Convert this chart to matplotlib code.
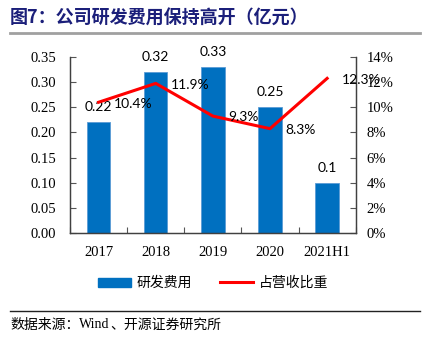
import matplotlib
matplotlib.use("Agg")
import matplotlib.pyplot as plt
from matplotlib.lines import Line2D
from matplotlib.patches import Patch

categories = ["2017", "2018", "2019", "2020", "2021H1"]
rd_expense = [0.22, 0.32, 0.33, 0.25, 0.10]
rd_labels = ["0.22", "0.32", "0.33", "0.25", "0.1"]
ratio_pct = [10.4, 11.9, 9.3, 8.3, 12.3]
left_ticks = [0.00, 0.05, 0.10, 0.15, 0.20, 0.25, 0.30, 0.35]
right_ticks = [0, 2, 4, 6, 8, 10, 12, 14]

W, H = 423, 341
fig = plt.figure(figsize=(W / 100, H / 100), dpi=100)
cjk = ["Noto Sans CJK SC", "DejaVu Sans"]
serif = ["Liberation Serif", "DejaVu Serif"]
num = ["Lato", "DejaVu Sans"]

ax = fig.add_axes([70 / W, (H - 233) / H, 285.7 / W, 176 / H])
x = list(range(len(categories)))
ax.bar(x, rd_expense, width=0.41, color="#0070C0", edgecolor="#5B9BD5", linewidth=0.6, zorder=2)
ax.set_xlim(-0.5, 4.5)
ax.set_ylim(0, 0.35)
ax.set_yticks(left_ticks)
ax.set_yticklabels([f"{v:.2f}" for v in left_ticks], family=serif, fontsize=10.5)
ax.set_xticks([i + 0.5 for i in range(-1, 5)], minor=False)
ax.set_xticklabels([""] * 6)
ax.set_xticks(x, minor=True)
ax.set_xticklabels(categories, minor=True, family=serif, fontsize=10.5)
ax.tick_params(axis="x", which="major", direction="in", length=4, width=0.8, color="#555555")
ax.tick_params(axis="x", which="minor", length=0, pad=9)
ax.tick_params(axis="y", direction="in", length=4, width=0.8, color="#555555", pad=10)
ax.spines["top"].set_visible(False)
for s in ["left", "bottom", "right"]:
    ax.spines[s].set_color("#404040")
    ax.spines[s].set_linewidth(0.9)

for xi, v, lab in zip(x, rd_expense, rd_labels):
    ax.annotate(lab, (xi, v), xytext=(0, 10.8), textcoords="offset points",
                ha="center", va="center", family=num, fontsize=10, color="#000000")

ax2 = ax.twinx()
ax2.plot(x, ratio_pct, color="#FF0000", linewidth=2.2, zorder=3)
ax2.set_ylim(0, 14)
ax2.set_yticks(right_ticks)
ax2.set_yticklabels([f"{v}%" for v in right_ticks], family=serif, fontsize=10.5)
ax2.tick_params(axis="y", direction="in", length=4, width=0.8, color="#555555", pad=8)
ax2.spines["top"].set_visible(False)
for s in ["left", "bottom", "right"]:
    ax2.spines[s].set_color("#404040")
    ax2.spines[s].set_linewidth(0.9)
for xi, v in zip(x, ratio_pct):
    ax2.annotate(f"{v}%", (xi, v), xytext=(10.8, -1), textcoords="offset points",
                 ha="left", va="center", family=num, fontsize=10, color="#000000")

# title
fig.text(10 / W, 1 - 18 / H, "图7：公司研发费用保持高开（亿元）", family=cjk, fontsize=13,
         fontweight="bold", color="#1B1F7A", ha="left", va="center")
fig.add_artist(Line2D([10 / W, 420 / W], [1 - 33 / H, 1 - 33 / H], transform=fig.transFigure,
                      color="#A0A0A0", linewidth=2))

# legend
handles = [Patch(facecolor="#0070C0", edgecolor="#0070C0"),
           Line2D([0], [0], color="#FF0000", linewidth=2.2)]
leg = fig.legend(handles, ["研发费用", "占营收比重"], loc="center", bbox_to_anchor=(213 / W, 1 - 283 / H),
                 ncol=2, frameon=False, prop={"family": cjk, "size": 10},
                 handlelength=2.4, handleheight=0.6, columnspacing=2.0, handletextpad=0.4)

# source
fig.add_artist(Line2D([10 / W, 420 / W], [1 - 311 / H, 1 - 311 / H], transform=fig.transFigure,
                      color="#222222", linewidth=1))
renderer = fig.canvas.get_renderer()
xpos = 10 / W
ysrc = 1 - 325 / H
for part, fam in [("数据来源：", cjk), ("Wind", serif), ("、开源证券研究所", cjk)]:
    t = fig.text(xpos, ysrc, part, family=fam, fontsize=10, ha="left", va="center")
    bb = t.get_window_extent(renderer=renderer)
    xpos += bb.width / W

fig.savefig("out.png", dpi=100)
